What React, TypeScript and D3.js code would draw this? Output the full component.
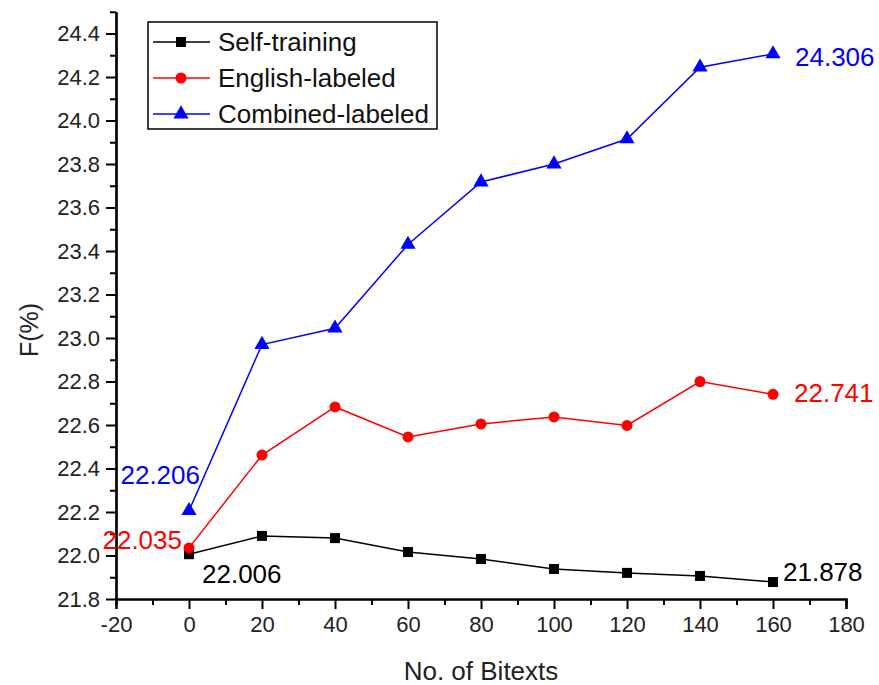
import * as d3 from 'd3'
import { useEffect, useRef } from 'react'

const bitexts = [0, 20, 40, 60, 80, 100, 120, 140, 160]
const selfTraining = [22.006, 22.09, 22.08, 22.016, 21.984, 21.938, 21.92, 21.906, 21.878]
const englishLabeled = [22.035, 22.462, 22.683, 22.545, 22.605, 22.637, 22.598, 22.8, 22.741]
const combinedLabeled = [22.206, 22.97, 23.045, 23.43, 23.717, 23.8, 23.915, 24.245, 24.306]
const seriesNames = ['Self-training', 'English-labeled', 'Combined-labeled']
const seriesColors = ['#000000', '#ff0000', '#0000ff']
const xTicks = [-20, 0, 20, 40, 60, 80, 100, 120, 140, 160, 180]
const yTicks = [21.8, 22.0, 22.2, 22.4, 22.6, 22.8, 23.0, 23.2, 23.4, 23.6, 23.8, 24.0, 24.2, 24.4]

const W = 879
const H = 685
const font = 'Arial, "Liberation Sans", sans-serif'

const App = () => {
  const xAxisRef = useRef<SVGGElement>(null)
  const yAxisRef = useRef<SVGGElement>(null)

  const x = d3.scaleLinear().domain([-20, 180]).range([116, 846])
  const y = d3.scaleLinear().domain([21.8, 24.5]).range([599, 11.75])

  useEffect(() => {
    const gx = d3.select(xAxisRef.current)
    gx.selectAll('*').remove()
    // minor ticks first, then major ones with labels
    gx.call(
      d3.axisBottom(x).tickValues(d3.range(-10, 180, 20)).tickSize(6).tickFormat(() => '')
    )
    gx.append('g').call(
      d3.axisBottom(x).tickValues(xTicks).tickSize(10).tickPadding(7).tickFormat((d) => String(d))
    )
    gx.selectAll('.domain').attr('stroke-width', 2.2).attr('stroke', '#000')
    gx.selectAll('line').attr('stroke-width', 2).attr('stroke', '#000')
    gx.selectAll('text')
      .attr('font-size', 22)
      .attr('font-family', font)
      .attr('fill', '#222')

    const gy = d3.select(yAxisRef.current)
    gy.selectAll('*').remove()
    gy.call(
      d3.axisLeft(y)
        .tickValues(d3.range(21.9, 24.55, 0.2))
        .tickSize(6)
        .tickSizeOuter(0)
        .tickFormat(() => '')
    )
    gy.append('g').call(
      d3.axisLeft(y).tickValues(yTicks).tickSize(10).tickSizeOuter(0).tickPadding(6).tickFormat(d3.format('.1f'))
    )
    gy.selectAll('.domain').attr('stroke-width', 2.2).attr('stroke', '#000')
    gy.selectAll('line').attr('stroke-width', 2).attr('stroke', '#000')
    gy.selectAll('text')
      .attr('font-size', 22)
      .attr('font-family', font)
      .attr('fill', '#222')
  }, [])

  const allSeries = [selfTraining, englishLabeled, combinedLabeled]
  const line = d3
    .line<number>()
    .x((_, i) => x(bitexts[i]))
    .y((d) => y(d))

  const marker = (k: number, cx: number, cy: number, key: string | number) => {
    if (k === 0) {
      return <rect key={key} x={cx - 5} y={cy - 5} width={10} height={10} fill={seriesColors[k]} />
    }
    if (k === 1) {
      return <circle key={key} cx={cx} cy={cy} r={5.5} fill={seriesColors[k]} />
    }
    const tri = d3.symbol(d3.symbolTriangle, 100)()
    return <path key={key} d={tri || ''} transform={`translate(${cx},${cy})`} fill={seriesColors[k]} />
  }

  const endLabels = [
    { text: '22.006', v: selfTraining[0], i: 0, dx: 13, dy: 20, color: seriesColors[0], anchor: 'start' },
    { text: '21.878', v: selfTraining[8], i: 8, dx: 10, dy: -10, color: seriesColors[0], anchor: 'start' },
    { text: '22.035', v: englishLabeled[0], i: 0, dx: -7, dy: -8, color: seriesColors[1], anchor: 'end' },
    { text: '22.741', v: englishLabeled[8], i: 8, dx: 21, dy: -1, color: seriesColors[1], anchor: 'start' },
    { text: '22.206', v: combinedLabeled[0], i: 0, dx: 11, dy: -36, color: seriesColors[2], anchor: 'end' },
    { text: '24.306', v: combinedLabeled[8], i: 8, dx: 22, dy: 3, color: seriesColors[2], anchor: 'start' },
  ]

  return (
    <svg
      width={W}
      height={H}
      style={{ position: 'absolute', left: 0, top: 0, background: '#fff' }}
    >
      <g ref={xAxisRef} transform={`translate(0,${y(21.8)})`} />
      <g ref={yAxisRef} transform={`translate(${x(-20)},0)`} />

      {allSeries.map((s, k) => (
        <g key={k}>
          <path d={line(s) || ''} fill="none" stroke={seriesColors[k]} strokeWidth={1.5} />
          {s.map((v, i) => marker(k, x(bitexts[i]), y(v), i))}
        </g>
      ))}

      {endLabels.map((l, j) => (
        <text
          key={j}
          x={x(bitexts[l.i]) + l.dx}
          y={y(l.v) + l.dy}
          dy="0.35em"
          textAnchor={l.anchor}
          fill={l.color}
          fontSize={26}
          fontFamily={font}
        >
          {l.text}
        </text>
      ))}

      {/* legend */}
      <g>
        <rect x={148} y={22} width={289} height={107} fill="#fff" stroke="#000" strokeWidth={1.5} />
        {seriesNames.map((name, k) => {
          const ly = 42 + k * 36
          return (
            <g key={name}>
              <line x1={153} x2={210} y1={ly} y2={ly} stroke={seriesColors[k]} strokeWidth={1.5} />
              {marker(k, 181, ly, 'm' + k)}
              <text x={218} y={ly} dy="0.35em" fontSize={26} fontFamily={font} fill="#111">
                {name}
              </text>
            </g>
          )
        })}
      </g>

      <text
        x={481}
        y={680}
        textAnchor="middle"
        fontSize={26}
        fontFamily={font}
        fill="#222"
      >
        No. of Bitexts
      </text>
      <text
        transform={`translate(38,330) rotate(-90)`}
        textAnchor="middle"
        fontSize={25}
        fontFamily={font}
        fill="#222"
      >
        F(%)
      </text>
    </svg>
  )
}

export default App
